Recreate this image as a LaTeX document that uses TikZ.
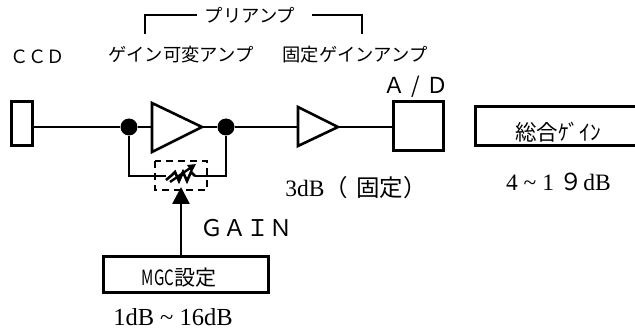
\documentclass[tikz,border=0pt]{standalone}
\usepackage{fontspec}
\setmainfont{Liberation Serif}
\newfontfamily\cjk{Noto Sans CJK JP}
\usetikzlibrary{arrows.meta}
\tikzset{
  wire/.style={line width=2.7pt},
  boxed/.style={draw,line width=3pt,fill=white,inner sep=0pt},
  amp/.style={line width=2.6pt,line join=miter},
  dot/.style={circle,fill=black,minimum size=17pt,inner sep=0pt},
  lbl/.style={inner sep=0pt,font=\cjk\fontsize{18.3}{20}\selectfont},
  big/.style={inner sep=0pt,font=\cjk\fontsize{22}{24}\selectfont},
  ser/.style={inner sep=0pt,font=\fontsize{23.5}{26}\selectfont},
}
\begin{document}
\begin{tikzpicture}[x=1pt,y=-1pt]
\useasboundingbox (0,0) rectangle (635,331);
\node[boxed,minimum width=21pt,minimum height=44pt] (ccd) at (21.5,124) {};
\node[dot] (j1) at (129,127) {};
\node[dot] (j2) at (226,127) {};
\coordinate (a1l) at (152,127);
\coordinate (a1r) at (202,127);
\coordinate (a2l) at (298,127);
\coordinate (a2r) at (338,127);
\node[boxed,minimum width=50pt,minimum height=49pt] (ad) at (418,126.5) {};
\node[boxed,minimum width=170pt,minimum height=39pt] (gain) at (560,126.5) {};
\node[boxed,minimum width=165pt,minimum height=36pt] (mgc) at (185.5,275) {};
\draw[wire] (ccd.east|-j1) -- (j1);
\draw[wire] (j1) -- (a1l);
\draw[wire] (a1r) -- (j2);
\draw[wire] (j2) -- (a2l);
\draw[wire] (a2r) -- (ad.west|-a2r);
\draw[amp] (152,103) -- (202,127) -- (152,152) -- cycle;
\draw[amp] (298,107) -- (338,127) -- (298,146) -- cycle;
\draw[wire] (j1) -- (129,176) -- (166,176);
\draw[wire] (195,176) -- (226,176) -- (j2);
\draw[line width=2.6pt] (166,180) -- (172,175) -- (175,172) -- (179,181) -- (183,172) -- (187,181) -- (191,172) -- (195,176);
\draw[line width=2.4pt,-{Triangle[length=8pt,width=8pt]}] (170,182) -- (196,164);
\draw[line width=2.5pt,dash pattern=on 7pt off 5pt] (155,161) rectangle (207,190);
\draw[wire,-{Triangle[length=17pt,width=17pt]}] (mgc.north-|181,0) -- (181,187);
\draw[line width=1.9pt] (145,34) -- (145,15) -- (197,15);
\draw[line width=1.9pt] (312,15) -- (362,15) -- (362,34);
\node[lbl] (pre) at (250,15) {プリアンプ};
\node[lbl] (t1) at (181,55) {ゲイン可変アンプ};
\node[lbl] (t2) at (355,55) {固定ゲインアンプ};
\node[lbl] (tc) at (37.5,57) {ＣＣＤ};
\node[big] (tad) at (416,87) {Ａ\hspace{6pt}/\hspace{6pt}Ｄ};
\node[big,font=\cjk\fontsize{23}{25}\selectfont] (tg) at (246,228) {ＧＡＩＮ};
\node[inner sep=0pt,font=\cjk\fontsize{21.5}{24}\selectfont] (g1) at (558,132) {総合ｹﾞｲﾝ};
\node[inner sep=0pt,font=\cjk\fontsize{21}{24}\selectfont] (m1) at (179,278) {\scalebox{0.72}[1]{MGC}設定};
\node[ser] (t3) at (356,188) {3dB{\cjk（\hspace{8pt}固定）}};
\node[ser] (t4) at (558.5,182) {4 \textasciitilde\ 1 {\cjk ９}dB};
\node[ser,font=\fontsize{24.5}{26}\selectfont] (t5) at (173,317) {1dB \textasciitilde\ 16dB};
\end{tikzpicture}
\end{document}
